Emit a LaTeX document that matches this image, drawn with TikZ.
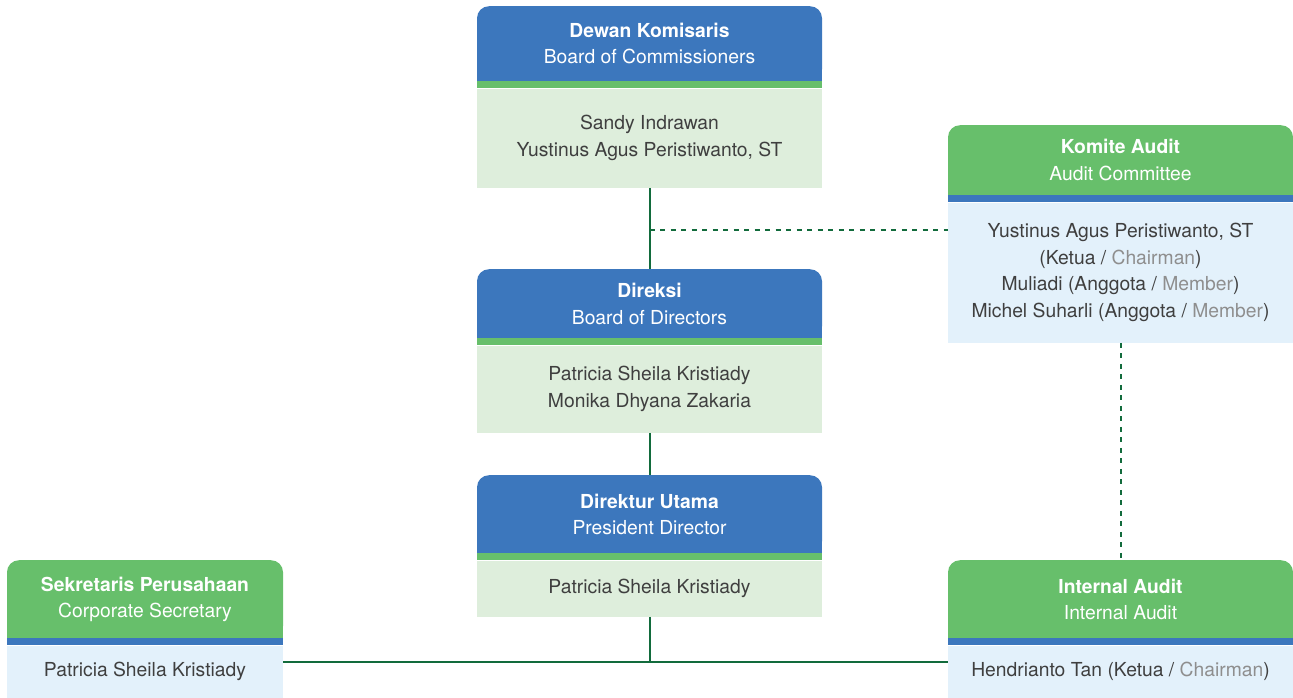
\documentclass[tikz,border=0pt]{standalone}
\usepackage{fontspec}
\setmainfont{TeX Gyre Heros}
\usepackage{xcolor}
\usepackage{tikz}
\usetikzlibrary{positioning}

\definecolor{hdblue}{HTML}{3C77BD}
\definecolor{hdgreen}{HTML}{67BF6B}
\definecolor{bdgreen}{HTML}{DEEEDC}
\definecolor{bdblue}{HTML}{E3F1FB}
\definecolor{lngreen}{HTML}{126B3C}
\definecolor{txtdark}{HTML}{3F3F3F}
\definecolor{txtgray}{HTML}{8E8E8E}
\newcommand\orgfont{\fontsize{19.3}{26.5}\selectfont}
\newcommand\gr[1]{\textcolor{txtgray}{#1}}

\begin{document}
\begin{tikzpicture}[x=1pt, y=-1pt,
    head/.style={rectangle, rounded corners=12pt, inner sep=0pt, minimum width=345pt,
        anchor=north, text=white, align=center, font=\orgfont},
    body/.style={rectangle, inner sep=0pt, minimum width=345pt,
        text=txtdark, align=center, font=\orgfont},
    link/.style={draw=lngreen, line width=2pt},
    dlink/.style={link, dash pattern=on 5pt off 5.5pt}]
    \useasboundingbox (0,0) rectangle (1293,697);

    % middle column
    \node [head, fill=hdblue, minimum height=75pt] (dkh) at (649.5,6)
        {\textbf{Dewan Komisaris}\\Board of Commissioners};
    \node [body, fill=bdgreen, minimum height=99pt, below=7pt of dkh] (dkb)
        {Sandy Indrawan\\Yustinus Agus Peristiwanto, ST};
    \node [head, fill=hdblue, minimum height=69pt] (dirh) at (649.5,269)
        {\textbf{Direksi}\\Board of Directors};
    \node [body, fill=bdgreen, minimum height=87pt, below=7pt of dirh] (dirb)
        {Patricia Sheila Kristiady\\Monika Dhyana Zakaria};
    \node [head, fill=hdblue, minimum height=78pt] (duh) at (649.5,475)
        {\textbf{Direktur Utama}\\President Director};
    \node [body, fill=bdgreen, minimum height=56pt, below=7pt of duh] (dub)
        {Patricia Sheila Kristiady};

    % right column
    \node [head, fill=hdgreen, minimum height=70pt] (kah) at (1120.5,125)
        {\textbf{Komite Audit}\\Audit Committee};
    \node [body, fill=bdblue, minimum height=140pt, below=7pt of kah] (kab)
        {Yustinus Agus Peristiwanto, ST\\(Ketua / \gr{Chairman})\\
         Muliadi (Anggota / \gr{Member})\\Michel Suharli (Anggota / \gr{Member})};
    \node [head, fill=hdgreen, minimum height=78pt] (iah) at (1120.5,560)
        {\textbf{Internal Audit}\\Internal Audit};
    \node [body, fill=bdblue, minimum height=52pt, below=7pt of iah] (iab)
        {Hendrianto Tan (Ketua / \gr{Chairman})};

    % left column
    \node [head, fill=hdgreen, minimum height=78pt, minimum width=276pt] (sph) at (145,560)
        {\textbf{Sekretaris Perusahaan}\\Corporate Secretary};
    \node [body, fill=bdblue, minimum height=52pt, minimum width=276pt, below=7pt of sph] (spb)
        {Patricia Sheila Kristiady};

    % square bottom corners and stripes
    \foreach \unit/\hc/\sc in {dk/hdblue/hdgreen, dir/hdblue/hdgreen, du/hdblue/hdgreen,
                               ka/hdgreen/hdblue, ia/hdgreen/hdblue, sp/hdgreen/hdblue} {
        \fill [\hc] (\unit h.south west) rectangle ++(12,-12);
        \fill [\hc] (\unit h.south east) rectangle ++(-12,-12);
        \fill [\sc] (\unit h.south west) rectangle (\unit b.north east);
    }

    % connectors
    \coordinate (kj) at ([yshift=-42pt]dkb.south);
    \coordinate (jn) at ([yshift=-45pt]dub.south);
    \draw [link] (dkb.south) -- (dirh.north);
    \draw [link] (dirb.south) -- (duh.north);
    \draw [link] (dub.south) -- (jn);
    \draw [link] (spb.east |- jn) -- (iab.west |- jn);
    \draw [dlink] (kj) -- (kab.west |- kj);
    \draw [dlink] (kab.south) -- (iah.north);
\end{tikzpicture}
\end{document}
